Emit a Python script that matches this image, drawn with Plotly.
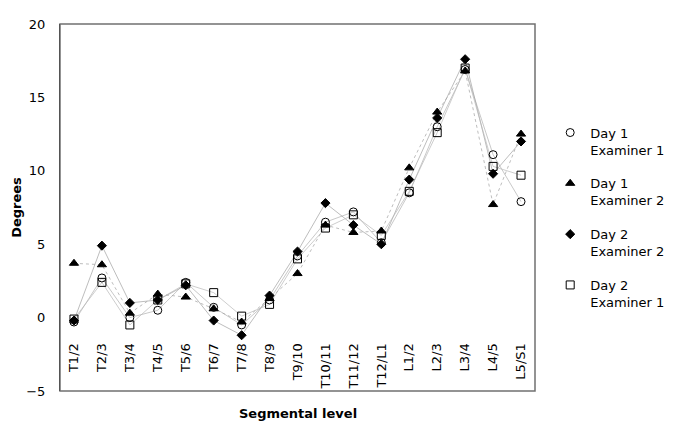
import plotly.graph_objects as go

# Segmental levels and angle values (degrees)
levels = ['T1/2', 'T2/3', 'T3/4', 'T4/5', 'T5/6', 'T6/7', 'T7/8', 'T8/9', 'T9/10',
          'T10/11', 'T11/12', 'T12/L1', 'L1/2', 'L2/3', 'L3/4', 'L4/5', 'L5/S1']

day1_ex1 = [-0.3, 2.7, 0.0, 0.5, 2.4, 0.7, -0.5, 1.2, 4.2, 6.5, 7.2, 5.1, 8.5, 13.0, 16.9, 11.1, 7.9]
day1_ex2 = [3.7, 3.6, 0.3, 1.6, 1.4, 0.6, -0.3, 1.3, 3.0, 6.3, 5.8, 5.9, 10.2, 14.0, 16.8, 7.7, 12.5]
day2_ex2 = [-0.2, 4.9, 1.0, 1.2, 2.2, -0.2, -1.2, 1.5, 4.5, 7.8, 6.3, 5.0, 9.4, 13.6, 17.6, 9.8, 12.0]
day2_ex1 = [-0.1, 2.4, -0.5, 1.2, 2.3, 1.7, 0.1, 0.9, 4.0, 6.1, 7.0, 5.6, 8.6, 12.6, 17.0, 10.3, 9.7]

y_ticks = [-5, 0, 5, 10, 15, 20]

FONT = 'DejaVu Sans'

# name, values, symbol, marker size, line colour, dash
series = [
    ('Day 1<br>Examiner 1', day1_ex1, 'circle-open', 8, '#b0b0b0', 'solid'),
    ('Day 1<br>Examiner 2', day1_ex2, 'triangle-up', 8, '#a0a0a0', 'dot'),
    ('Day 2<br>Examiner 2', day2_ex2, 'diamond', 7, '#a0a0a0', 'solid'),
    ('Day 2<br>Examiner 1', day2_ex1, 'square-open', 8, '#b8b8b8', 'solid'),
]

fig = go.Figure()

# connecting lines first, no legend entry
for name, vals, symbol, msize, lcolor, dash in series:
    fig.add_trace(go.Scatter(
        x=levels, y=vals, mode='lines', showlegend=False, hoverinfo='skip',
        line=dict(color=lcolor, width=0.7, dash=dash),
    ))

# markers on top, these carry the legend
for i, (name, vals, symbol, msize, lcolor, dash) in enumerate(series):
    fig.add_trace(go.Scatter(
        x=levels,
        y=vals,
        name=name,
        mode='markers',
        legendgroup=f'g{i}',
        marker=dict(symbol=symbol, size=msize, color='black',
                    line=dict(color='black', width=1)),
    ))

# frame around the plot (left side comes from the y axis line)
fig.add_shape(type='rect', xref='paper', yref='paper', x0=0, x1=1, y0=0, y1=1,
              line=dict(color='#707070', width=1.5), layer='above')

# page body has an 8px margin, so the figure is 8px smaller each way
fig.update_layout(
    width=685,
    height=426,
    margin=dict(l=52, r=158, t=16, b=43, autoexpand=False),
    plot_bgcolor='white',
    paper_bgcolor='white',
    font=dict(family=FONT, size=13, color='black'),
    xaxis=dict(
        type='category',
        range=[-0.5, 16.5],
        anchor='free',
        position=0.14,
        showline=False,
        showgrid=False,
        zeroline=False,
        ticks='',
        tickangle=-90,
        tickfont=dict(size=13),
        title=None,
    ),
    yaxis=dict(
        range=[-5, 20],
        tickvals=y_ticks,
        showgrid=False,
        zeroline=False,
        showline=True,
        linecolor='black',
        linewidth=1,
        ticks='',
        automargin=False,
        ticklabelstandoff=11,
        title=dict(text='<b>Degrees</b>', font=dict(size=13), standoff=1),
    ),
    legend=dict(
        x=1.032,
        xanchor='left',
        y=0.745,
        yanchor='top',
        traceorder='grouped',
        tracegroupgap=14,
        valign='top',
        font=dict(size=13),
        bgcolor='rgba(0,0,0,0)',
    ),
    annotations=[dict(
        text='<b>Segmental level</b>',
        xref='paper', yref='paper',
        x=0.5, y=-0.035,
        xanchor='center', yanchor='top',
        showarrow=False,
        font=dict(size=13),
    )],
)

fig.write_html('out.html')
